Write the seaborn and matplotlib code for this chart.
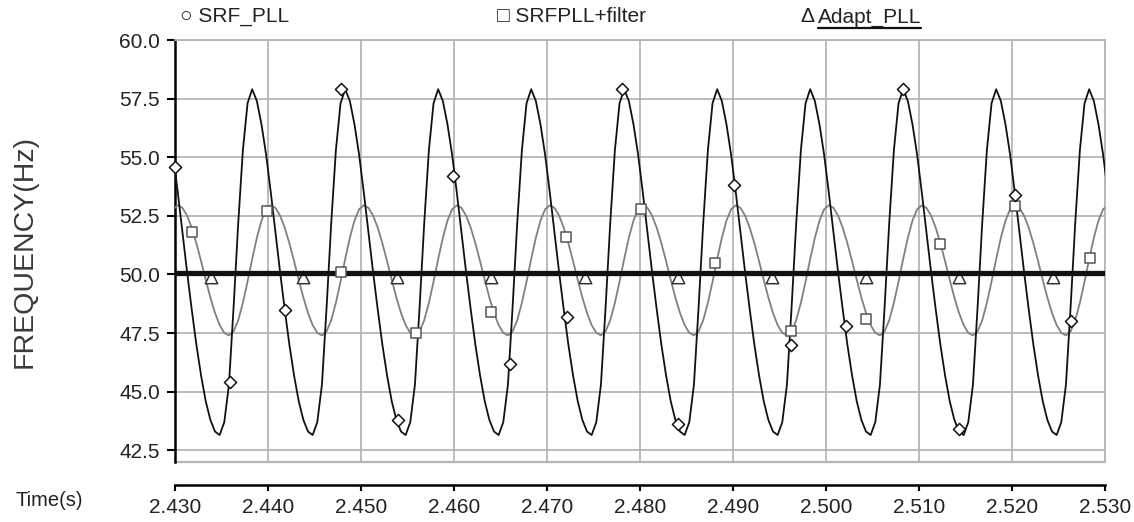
import numpy as np
import pandas as pd
import matplotlib
matplotlib.use("Agg")
import matplotlib.pyplot as plt
import seaborn as sns
from matplotlib.lines import Line2D

# ---------------- data ----------------
# sampling grid of the simulated traces (s)
t_start, t_stop, t_step = 2.4298, 2.5303, 0.0005
time_s = np.round(np.arange(t_start, t_stop + t_step / 2, t_step), 4)

# SRF_PLL frequency (Hz), one row per ~10 ms cycle
srf_pll = (
    [55.1, 53.5, 51.8, 50.1, 48.5, 47.0, 45.7, 44.6, 43.8, 43.3]
    + [43.15, 43.7, 45.3, 48.6, 52.2, 55.3, 57.3, 57.9, 57.4, 56.4, 55.1, 53.5, 51.8, 50.1, 48.5, 47.0, 45.7, 44.6, 43.8, 43.3]
    + [43.15, 43.7, 45.3, 48.6, 52.2, 55.3, 57.3, 57.9, 57.4, 56.4, 55.1, 53.5, 51.8, 50.1, 48.5, 47.0, 45.7, 44.6, 43.8, 43.3]
    + [43.15, 43.7, 45.3, 48.6, 52.2, 55.3, 57.3, 57.9, 57.4, 56.4, 55.1, 53.5, 51.8, 50.1, 48.5, 47.0, 45.7, 44.6, 43.8, 43.3]
    + [43.15, 43.7, 45.3, 48.6, 52.2, 55.3, 57.3, 57.9, 57.4, 56.4, 55.1, 53.5, 51.8, 50.1, 48.5, 47.0, 45.7, 44.6, 43.8, 43.3]
    + [43.15, 43.7, 45.3, 48.6, 52.2, 55.3, 57.3, 57.9, 57.4, 56.4, 55.1, 53.5, 51.8, 50.1, 48.5, 47.0, 45.7, 44.6, 43.8, 43.3]
    + [43.15, 43.7, 45.3, 48.6, 52.2, 55.3, 57.3, 57.9, 57.4, 56.4, 55.1, 53.5, 51.8, 50.1, 48.5, 47.0, 45.7, 44.6, 43.8, 43.3]
    + [43.15, 43.7, 45.3, 48.6, 52.2, 55.3, 57.3, 57.9, 57.4, 56.4, 55.1, 53.5, 51.8, 50.1, 48.5, 47.0, 45.7, 44.6, 43.8, 43.3]
    + [43.15, 43.7, 45.3, 48.6, 52.2, 55.3, 57.3, 57.9, 57.4, 56.4, 55.1, 53.5, 51.8, 50.1, 48.5, 47.0, 45.7, 44.6, 43.8, 43.3]
    + [43.15, 43.7, 45.3, 48.6, 52.2, 55.3, 57.3, 57.9, 57.4, 56.4, 55.1, 53.5, 51.8, 50.1, 48.5, 47.0, 45.7, 44.6, 43.8, 43.3]
    + [43.15, 43.7, 45.3, 48.6, 52.2, 55.3, 57.3, 57.9, 57.4, 56.4, 55.1, 53.5]
)

# SRFPLL+filter frequency (Hz)
srfpll_filter = (
    [52.78, 52.95, 52.84, 52.51, 51.99, 51.33, 50.57, 49.78, 49.02, 48.36, 47.84, 47.51]
    + [47.4, 47.57, 48.05, 48.79, 49.69, 50.66, 51.56, 52.30, 52.78, 52.95, 52.84, 52.51, 51.99, 51.33, 50.57, 49.78, 49.02, 48.36, 47.84, 47.51]
    + [47.4, 47.57, 48.05, 48.79, 49.69, 50.66, 51.56, 52.30, 52.78, 52.95, 52.84, 52.51, 51.99, 51.33, 50.57, 49.78, 49.02, 48.36, 47.84, 47.51]
    + [47.4, 47.57, 48.05, 48.79, 49.69, 50.66, 51.56, 52.30, 52.78, 52.95, 52.84, 52.51, 51.99, 51.33, 50.57, 49.78, 49.02, 48.36, 47.84, 47.51]
    + [47.4, 47.57, 48.05, 48.79, 49.69, 50.66, 51.56, 52.30, 52.78, 52.95, 52.84, 52.51, 51.99, 51.33, 50.57, 49.78, 49.02, 48.36, 47.84, 47.51]
    + [47.4, 47.57, 48.05, 48.79, 49.69, 50.66, 51.56, 52.30, 52.78, 52.95, 52.84, 52.51, 51.99, 51.33, 50.57, 49.78, 49.02, 48.36, 47.84, 47.51]
    + [47.4, 47.57, 48.05, 48.79, 49.69, 50.66, 51.56, 52.30, 52.78, 52.95, 52.84, 52.51, 51.99, 51.33, 50.57, 49.78, 49.02, 48.36, 47.84, 47.51]
    + [47.4, 47.57, 48.05, 48.79, 49.69, 50.66, 51.56, 52.30, 52.78, 52.95, 52.84, 52.51, 51.99, 51.33, 50.57, 49.78, 49.02, 48.36, 47.84, 47.51]
    + [47.4, 47.57, 48.05, 48.79, 49.69, 50.66, 51.56, 52.30, 52.78, 52.95, 52.84, 52.51, 51.99, 51.33, 50.57, 49.78, 49.02, 48.36, 47.84, 47.51]
    + [47.4, 47.57, 48.05, 48.79, 49.69, 50.66, 51.56, 52.30, 52.78, 52.95, 52.84, 52.51, 51.99, 51.33, 50.57, 49.78, 49.02, 48.36, 47.84, 47.51]
    + [47.4, 47.57, 48.05, 48.79, 49.69, 50.66, 51.56, 52.30, 52.78, 52.95]
)

# Adapt_PLL frequency (Hz) - flat
adapt_t = [2.430, 2.530]
adapt_pll = [50.08, 50.08]

# symbol positions drawn on each trace
srf_mark_t = [2.4300, 2.4359, 2.4418, 2.4479, 2.4540, 2.4599, 2.4660, 2.4721, 2.4781,
              2.4841, 2.4901, 2.4962, 2.5022, 2.5083, 2.5143, 2.5203, 2.5263]
srf_mark_v = [54.6, 45.4, 48.5, 57.9, 43.8, 54.2, 46.2, 48.2, 57.9,
              43.6, 53.8, 47.0, 47.8, 57.9, 43.4, 53.4, 48.0]
filt_mark_t = [2.4318, 2.4399, 2.4479, 2.4559, 2.4640, 2.4720, 2.4801, 2.4881,
               2.4962, 2.5043, 2.5123, 2.5203, 2.5284]
filt_mark_v = [51.8, 52.7, 50.1, 47.5, 48.4, 51.6, 52.8, 50.5,
               47.6, 48.1, 51.3, 52.9, 50.7]
adapt_mark_t = [2.4339, 2.4438, 2.4539, 2.4640, 2.4741, 2.4841, 2.4942, 2.5043, 2.5143, 2.5244]
adapt_mark_v = [49.88, 49.88, 49.88, 49.88, 49.88, 49.88, 49.88, 49.88, 49.88, 49.88]

x_ticks = [2.430, 2.440, 2.450, 2.460, 2.470, 2.480, 2.490, 2.500, 2.510, 2.520, 2.530]
x_tick_labels = ["2.430", "2.440", "2.450", "2.460", "2.470", "2.480",
                 "2.490", "2.500", "2.510", "2.520", "2.530"]
y_ticks = [42.5, 45.0, 47.5, 50.0, 52.5, 55.0, 57.5, 60.0]
y_tick_labels = ["42.5", "45.0", "47.5", "50.0", "52.5", "55.0", "57.5", "60.0"]
x_range = (2.430, 2.530)
y_range = (42.0, 60.0)

# ---------------- style ----------------
sns.set_theme(style="white")
plt.rcParams["font.family"] = ["Liberation Sans", "DejaVu Sans"]
GRID = "#b5b5b5"
TXT = "#222222"

fig = plt.figure(figsize=(11.34, 5.22), dpi=100)
ax = fig.add_axes([175 / 1134, 1 - 462 / 522, 930 / 1134, 422 / 522])

df = pd.DataFrame({"t": time_s, "SRF_PLL": srf_pll, "SRFPLL+filter": srfpll_filter})

sns.lineplot(data=df, x="t", y="SRFPLL+filter", ax=ax, color="#808080", lw=1.3, zorder=3)
sns.lineplot(data=df, x="t", y="SRF_PLL", ax=ax, color="#111111", lw=1.3, zorder=4)

sns.scatterplot(x=adapt_mark_t, y=adapt_mark_v, ax=ax, marker="^", s=80,
                facecolor="white", edgecolor="#333333", linewidth=1.1, zorder=5)
sns.lineplot(x=adapt_t, y=adapt_pll, ax=ax, color="#111111", lw=3.8, zorder=6)

sns.scatterplot(x=filt_mark_t, y=filt_mark_v, ax=ax, marker="s", s=55,
                facecolor="white", edgecolor="#555555", linewidth=1.1, zorder=7)
sns.scatterplot(x=srf_mark_t, y=srf_mark_v, ax=ax, marker="D", s=38,
                facecolor="white", edgecolor="#111111", linewidth=1.1, zorder=8)
for coll in ax.collections:
    coll.set_clip_on(False)

ax.set_xlim(*x_range)
ax.set_ylim(*y_range)
ax.set_xticks(x_ticks)
ax.set_xticklabels(x_tick_labels)
ax.set_yticks(y_ticks)
ax.set_yticklabels(y_tick_labels)
ax.set_xlabel("")

ax.grid(True, color=GRID, lw=1.3)
ax.set_axisbelow(True)

for side in ["top", "right"]:
    ax.spines[side].set_color(GRID)
    ax.spines[side].set_linewidth(1.3)
ax.spines["left"].set_color("black")
ax.spines["left"].set_linewidth(1.8)
ax.spines["bottom"].set_color("black")
ax.spines["bottom"].set_linewidth(1.8)
ax.spines["bottom"].set_position(("outward", 16.5))
ax.axhline(ax.get_ylim()[0], color=GRID, lw=1.6, clip_on=False, zorder=1)

ax.tick_params(axis="y", direction="out", length=5.8, width=1.5, color="black",
               labelsize=15, pad=5, labelcolor=TXT, left=True)
ax.tick_params(axis="x", direction="out", length=4.5, width=1.5, color="black",
               labelsize=15, pad=5, labelcolor=TXT, bottom=True)

ax.set_ylabel("FREQUENCY(Hz)", fontsize=20.5, color="#3a3a3a")
ax.yaxis.label.set_verticalalignment("center")
ax.yaxis.set_label_coords(-0.162, 0.5)

fig.text(15 / 1134, 1 - 501 / 522, "Time(s)", ha="left", va="center",
         fontsize=14.5, color=TXT)

# legend as text row above the plot
ly = 1.0 + 23 / 422
ax.text(5 / 930, ly, "○ SRF_PLL", transform=ax.transAxes, ha="left", va="center",
        fontsize=15, color=TXT)
ax.text(322 / 930, ly, "□ SRFPLL+filter", transform=ax.transAxes, ha="left",
        va="center", fontsize=15, color=TXT)
ax.text(625 / 930, ly, "Δ", transform=ax.transAxes, ha="left", va="center",
        fontsize=15, color=TXT)
adapt_txt = ax.text(643 / 930, ly, "Adapt_PLL", transform=ax.transAxes, ha="left",
                    va="center", fontsize=15, color=TXT)

fig.canvas.draw()
bb = adapt_txt.get_window_extent(renderer=fig.canvas.get_renderer())
inv = fig.transFigure.inverted()
(x0, y0) = inv.transform((bb.x0, bb.y0 - 1))
(x1, _) = inv.transform((bb.x1, bb.y0 - 1))
fig.add_artist(Line2D([x0, x1], [y0, y0], transform=fig.transFigure,
                      color="#111111", lw=1.6))

fig.savefig("out.png", dpi=100)
